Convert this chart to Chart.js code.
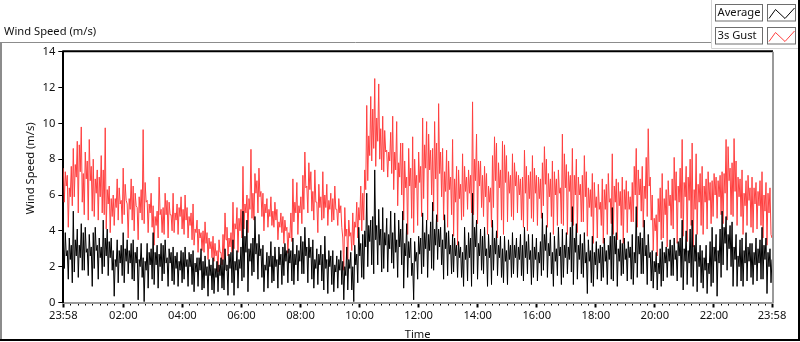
<!DOCTYPE html>
<html>
<head>
<meta charset="utf-8">
<script src="https://cdn.jsdelivr.net/npm/chart.js@4.4.1/dist/chart.umd.min.js"></script>
<style>
  html, body { margin: 0; padding: 0; background: #fff; }
  #wrap { width: 800px; height: 342px; }
</style>
</head>
<body>
<div id="wrap"><canvas id="windChart" width="800" height="342"></canvas></div>
<script>
// ---- data (minutes after 23:58, m/s) ----
var spanMinutes = 1440;
var majorMinutes = [0, 122, 242, 362, 482, 602, 722, 842, 962, 1082, 1202, 1322, 1440];
var majorLabels = ['23:58', '02:00', '04:00', '06:00', '08:00', '10:00', '12:00', '14:00', '16:00', '18:00', '20:00', '22:00', '23:58'];
var yTickValues = [0, 2, 4, 6, 8, 10, 12, 14];
var seriesNames = ['Average', '3s Gust'];

var averageValues = [
  3.4, 1.9, 3.9, 2.6, 2.9, 1.3, 3.6, 2.4, 3.2, 1.1,
  5.1, 1.7, 3.5, 2.6, 4.1, 1.4, 3.2, 2.5, 4.4, 1.8,
  3.9, 1.8, 4.2, 2.8, 3.0, 1.5, 3.8, 2.6, 3.1, 0.9,
  3.9, 1.9, 4.2, 2.9, 3.2, 1.3, 3.6, 2.5, 3.1, 1.6,
  4.6, 2.0, 3.6, 2.6, 4.1, 1.5, 3.4, 2.5, 3.6, 1.8,
  2.9, 0.35, 2.4, 2.0, 3.5, 1.1, 2.9, 2.2, 3.2, 1.5,
  3.9, 1.1, 3.0, 2.3, 3.5, 1.6, 2.9, 2.2, 3.3, 1.3,
  3.5, 1.2, 2.8, 2.2, 3.1, 0.15, 2.4, 2.0, 3.3, 1.4,
  2.5, 0.05, 2.3, 1.8, 3.3, 0.8, 2.8, 2.1, 3.0, 1.3,
  3.9, 1.0, 2.8, 2.1, 3.2, 0.8, 2.7, 2.0, 3.3, 1.2,
  3.2, 1.6, 3.5, 2.2, 2.5, 0.9, 3.0, 2.2, 2.8, 1.2,
  3.1, 1.0, 2.6, 1.9, 2.8, 0.9, 2.3, 1.8, 2.9, 1.1,
  2.8, 1.3, 3.1, 2.0, 2.4, 0.9, 2.8, 2.0, 2.7, 1.0,
  2.9, 0.6, 2.2, 1.7, 2.5, 0.9, 2.5, 1.8, 3.0, 0.7,
  2.3, 0.8, 2.6, 1.5, 2.0, 0.35, 2.4, 1.5, 2.1, 0.7,
  2.5, 0.5, 1.9, 1.4, 2.3, 0.6, 2.1, 1.5, 2.5, 0.8,
  2.4, 0.7, 3.0, 1.8, 2.1, 0.4, 2.7, 1.9, 2.8, 1.1,
  3.5, 0.4, 2.3, 1.8, 2.9, 0.8, 2.4, 1.9, 3.1, 1.2,
  5.1, 1.4, 3.7, 2.8, 4.6, 0.6, 3.0, 2.3, 3.3, 1.5,
  3.6, 1.7, 4.8, 2.7, 3.3, 1.3, 3.8, 2.6, 3.0, 1.4,
  3.2, 0.6, 2.1, 1.8, 2.8, 0.8, 2.6, 2.0, 3.4, 1.1,
  2.6, 1.2, 3.1, 2.0, 2.4, 0.8, 3.1, 2.1, 2.7, 1.0,
  3.1, 1.5, 3.3, 2.3, 2.9, 1.1, 3.0, 2.2, 2.9, 1.2,
  3.6, 1.0, 2.7, 2.1, 3.2, 1.2, 2.9, 2.3, 3.7, 1.6,
  3.4, 1.6, 4.2, 2.6, 3.1, 1.1, 3.6, 2.5, 3.1, 1.3,
  3.5, 0.8, 2.4, 1.9, 3.0, 1.0, 2.7, 2.1, 3.2, 1.2,
  2.7, 0.7, 3.7, 1.9, 2.4, 0.5, 2.9, 2.0, 2.6, 1.0,
  2.9, 0.6, 2.1, 1.7, 2.6, 0.8, 2.4, 1.8, 2.9, 1.0,
  2.3, 0.15, 2.0, 1.5, 3.1, 0.7, 2.4, 1.9, 2.8, 0.7,
  2.0, 0.05, 3.2, 2.1, 2.7, 1.1, 4.2, 2.6, 3.3, 1.4,
  3.8, 1.3, 4.0, 3.1, 6.1, 2.0, 4.3, 3.4, 4.6, 2.1,
  4.8, 1.6, 7.4, 3.5, 4.3, 2.1, 5.2, 3.2, 4.1, 1.7,
  5.3, 1.9, 3.9, 3.2, 4.7, 1.7, 3.8, 3.0, 5.1, 2.2,
  3.9, 1.9, 5.0, 2.8, 3.5, 1.4, 4.6, 3.1, 4.1, 2.1,
  5.1, 0.8, 3.3, 2.6, 4.4, 1.4, 3.4, 2.5, 3.6, 1.5,
  2.2, 0.15, 3.4, 2.3, 2.8, 1.3, 3.7, 2.7, 3.6, 1.6,
  5.0, 2.0, 3.9, 3.0, 4.6, 1.4, 3.8, 2.9, 4.5, 1.9,
  5.6, 1.8, 4.1, 3.2, 4.9, 2.4, 4.1, 3.1, 4.2, 2.1,
  3.5, 1.3, 4.9, 3.0, 3.9, 1.5, 4.0, 2.7, 3.2, 1.6,
  3.8, 1.7, 3.6, 2.6, 3.2, 1.4, 3.4, 2.5, 3.1, 1.4,
  2.8, 0.9, 4.2, 2.4, 3.2, 1.2, 3.9, 2.5, 3.6, 0.9,
  6.1, 1.6, 4.2, 3.1, 4.6, 1.3, 3.3, 2.6, 4.1, 1.8,
  3.7, 1.6, 4.2, 2.6, 3.0, 0.9, 3.8, 2.5, 3.2, 1.0,
  4.6, 1.8, 3.6, 2.7, 4.0, 1.5, 3.2, 2.5, 3.7, 1.4,
  3.0, 1.1, 3.7, 2.3, 2.9, 1.0, 3.5, 2.4, 3.2, 1.4,
  3.9, 1.6, 3.2, 2.5, 3.6, 1.4, 3.1, 2.4, 3.8, 1.5,
  3.2, 1.2, 4.2, 2.5, 3.4, 1.6, 3.8, 2.4, 2.9, 1.0,
  3.8, 1.4, 3.1, 2.4, 3.6, 1.2, 2.8, 2.2, 3.4, 1.5,
  5.0, 1.8, 3.8, 2.9, 4.3, 1.4, 3.3, 2.6, 3.9, 1.6,
  2.8, 0.9, 3.7, 2.3, 3.0, 1.5, 4.2, 2.6, 3.1, 1.0,
  4.1, 1.4, 3.2, 2.5, 3.9, 1.6, 3.1, 2.4, 4.2, 1.7,
  5.35, 1.0, 3.6, 2.8, 4.4, 1.3, 3.2, 2.4, 3.8, 1.6,
  3.3, 1.4, 3.9, 2.2, 2.8, 0.5, 3.5, 2.3, 2.9, 1.1,
  3.7, 0.9, 2.8, 2.1, 3.4, 1.3, 3.0, 2.2, 3.2, 1.2,
  3.1, 1.4, 3.6, 2.3, 2.9, 1.0, 3.2, 2.4, 3.7, 1.3,
  5.3, 1.2, 3.7, 2.7, 3.9, 0.9, 3.0, 2.3, 3.5, 1.5,
  3.3, 1.6, 3.6, 2.4, 3.0, 1.2, 3.4, 2.5, 3.1, 1.3,
  3.8, 1.0, 2.8, 2.2, 5.35, 1.4, 3.7, 2.7, 3.9, 1.6,
  3.6, 1.6, 4.6, 2.6, 3.2, 1.0, 3.8, 2.5, 2.8, 1.2,
  2.9, 0.8, 2.3, 1.7, 2.8, 0.7, 2.2, 1.6, 3.0, 0.9,
  3.4, 1.2, 2.8, 2.2, 3.1, 1.4, 3.0, 2.3, 3.5, 1.5,
  3.2, 1.5, 3.6, 2.4, 2.9, 1.2, 3.4, 2.6, 3.6, 1.4,
  4.6, 0.7, 3.0, 2.3, 4.0, 1.0, 2.9, 2.2, 4.1, 1.4,
  4.6, 0.9, 3.2, 2.3, 3.8, 0.6, 2.8, 2.0, 3.2, 1.1,
  2.9, 0.8, 2.5, 1.8, 3.2, 0.5, 2.2, 1.6, 3.4, 0.9,
  4.2, 1.1, 3.1, 2.3, 3.8, 0.35, 2.9, 2.2, 4.1, 1.4,
  5.1, 2.1, 4.2, 3.3, 4.8, 1.8, 3.8, 3.0, 4.3, 2.0,
  4.5, 0.9, 3.1, 2.4, 3.8, 0.9, 2.6, 2.0, 3.5, 1.2,
  3.6, 0.9, 2.9, 2.2, 3.9, 1.2, 3.1, 2.3, 3.3, 1.4,
  3.3, 1.0, 2.8, 2.1, 3.6, 1.2, 3.0, 2.2, 3.5, 1.3,
  4.2, 1.3, 3.2, 2.4, 3.6, 0.5, 2.8, 2.0, 3.0, 1.1,
  2.4
];

var gustValues = [
  7.5, 5.6, 7.3, 6.5, 7.1, 4.2, 6.4, 5.9, 7.6, 5.4,
  8.6, 5.9, 7.7, 7.0, 9.0, 5.0, 8.8, 7.3, 9.8, 5.6,
  7.2, 4.9, 8.4, 6.9, 7.9, 4.6, 9.1, 6.8, 7.6, 5.1,
  8.0, 4.8, 6.9, 6.1, 7.4, 4.6, 7.0, 5.9, 8.2, 5.0,
  7.4, 4.9, 9.75, 4.1, 6.3, 5.5, 6.5, 3.9, 5.8, 4.8,
  6.0, 4.3, 5.8, 5.3, 6.9, 4.6, 6.4, 5.5, 5.7, 4.4,
  7.5, 4.9, 6.6, 5.7, 5.5, 3.6, 5.8, 5.2, 6.9, 4.6,
  6.5, 4.0, 6.1, 5.4, 5.3, 3.5, 5.9, 5.0, 6.3, 4.6,
  9.65, 4.4, 6.7, 5.6, 5.7, 3.9, 5.5, 5.0, 6.1, 4.2,
  5.4, 3.2, 4.8, 4.3, 5.1, 3.6, 7.0, 4.9, 5.2, 3.9,
  5.3, 3.8, 6.1, 4.9, 5.7, 3.6, 5.6, 4.9, 4.9, 4.0,
  6.1, 3.9, 5.0, 4.6, 5.5, 3.8, 5.3, 4.8, 5.9, 4.1,
  5.2, 3.8, 6.0, 4.6, 5.3, 3.6, 4.8, 4.3, 5.0, 3.5,
  5.5, 3.2, 4.1, 3.9, 4.6, 2.8, 4.1, 3.6, 3.9, 2.9,
  4.0, 2.8, 4.5, 3.3, 3.9, 2.4, 3.6, 3.0, 3.4, 2.5,
  3.7, 2.3, 3.3, 2.6, 2.9, 1.7, 3.5, 2.8, 2.8, 2.1,
  3.8, 2.4, 5.0, 3.5, 4.2, 2.6, 3.6, 3.1, 3.9, 2.8,
  5.6, 3.0, 4.4, 4.1, 5.3, 2.8, 4.7, 4.0, 5.2, 3.6,
  7.6, 4.1, 5.5, 5.0, 6.0, 3.9, 5.8, 5.2, 8.55, 4.7,
  6.1, 4.6, 7.2, 6.1, 6.8, 5.0, 7.5, 5.9, 6.2, 4.8,
  6.1, 4.0, 5.5, 5.0, 5.8, 4.2, 5.2, 4.8, 5.9, 4.3,
  5.1, 4.2, 5.6, 4.6, 5.2, 3.5, 4.5, 4.2, 5.0, 3.9,
  4.8, 3.3, 4.6, 4.0, 4.2, 2.75, 3.9, 3.6, 5.0, 3.4,
  6.9, 4.5, 5.6, 5.0, 6.7, 3.8, 5.4, 5.0, 5.9, 4.4,
  7.1, 5.2, 8.4, 6.4, 6.5, 5.0, 7.8, 6.3, 7.3, 5.1,
  6.2, 4.6, 7.4, 5.6, 5.6, 3.9, 6.6, 5.3, 5.9, 4.6,
  7.3, 4.7, 6.0, 5.3, 6.6, 4.3, 5.7, 5.2, 6.1, 4.5,
  5.8, 4.6, 6.5, 5.2, 5.2, 4.3, 5.8, 5.0, 5.4, 4.2,
  3.6, 1.8, 5.3, 3.7, 4.1, 2.4, 4.6, 3.7, 3.9, 2.9,
  5.0, 3.2, 4.5, 4.2, 5.6, 3.6, 5.3, 4.6, 6.5, 4.0,
  6.1, 4.6, 7.4, 6.3, 11.0, 6.8, 9.3, 8.2, 11.5, 7.9,
  10.8, 8.6, 12.5, 7.6, 10.3, 9.0, 12.2, 8.0, 9.7, 7.4,
  10.4, 7.3, 9.6, 8.4, 8.5, 7.0, 8.4, 7.9, 9.5, 7.2,
  10.4, 6.3, 8.4, 7.4, 10.1, 5.4, 7.8, 7.0, 8.9, 6.0,
  8.9, 4.6, 7.9, 6.4, 7.0, 3.8, 8.6, 6.5, 7.5, 4.7,
  9.25, 3.9, 8.0, 6.4, 7.1, 4.3, 8.4, 6.7, 7.6, 4.8,
  10.3, 5.8, 8.8, 7.5, 10.1, 4.6, 9.4, 7.4, 8.5, 6.0,
  8.6, 5.1, 10.1, 6.9, 8.9, 4.5, 11.1, 7.2, 8.4, 5.9,
  8.6, 4.6, 7.3, 6.2, 8.5, 4.2, 7.9, 6.3, 7.0, 4.9,
  9.1, 3.7, 6.9, 5.6, 7.6, 3.2, 7.4, 5.8, 6.6, 4.6,
  8.3, 4.8, 7.6, 6.2, 7.0, 5.2, 7.4, 6.1, 7.1, 5.0,
  11.2, 4.9, 8.0, 6.8, 9.4, 4.4, 7.9, 6.5, 7.9, 5.3,
  7.1, 4.8, 7.6, 5.9, 7.2, 3.8, 6.5, 5.6, 6.4, 4.2,
  8.2, 5.3, 9.25, 6.8, 8.9, 3.6, 7.8, 6.4, 7.4, 4.6,
  9.0, 3.8, 8.8, 6.7, 8.2, 4.5, 7.3, 6.1, 7.1, 4.8,
  8.3, 4.6, 7.8, 6.5, 7.3, 5.0, 7.1, 6.0, 6.9, 4.6,
  7.0, 4.2, 8.5, 6.1, 7.6, 4.0, 7.1, 5.8, 7.3, 4.7,
  8.2, 4.5, 7.5, 6.1, 7.1, 4.3, 7.0, 5.8, 6.9, 4.7,
  7.8, 5.4, 8.7, 6.6, 8.0, 4.2, 7.2, 5.9, 6.9, 4.8,
  7.9, 3.8, 7.3, 6.0, 6.9, 4.3, 7.4, 6.1, 6.4, 4.4,
  9.4, 4.3, 8.3, 6.4, 7.7, 3.8, 7.3, 6.2, 7.1, 4.5,
  8.6, 4.3, 7.1, 6.0, 8.0, 3.9, 7.0, 6.0, 6.6, 4.5,
  7.1, 4.5, 8.2, 5.9, 7.3, 3.7, 6.4, 5.3, 6.3, 4.8,
  7.2, 3.3, 6.7, 5.3, 5.9, 3.6, 6.6, 5.2, 5.6, 4.3,
  6.9, 3.3, 6.3, 5.2, 6.6, 3.8, 7.2, 5.6, 5.8, 4.4,
  8.3, 3.8, 6.5, 5.6, 6.9, 3.5, 6.7, 5.4, 6.2, 4.3,
  7.0, 3.3, 6.3, 5.2, 6.8, 3.9, 6.2, 5.2, 5.9, 4.5,
  6.7, 4.5, 7.6, 6.0, 8.6, 4.2, 7.4, 6.0, 6.9, 5.1,
  7.6, 4.2, 6.5, 5.8, 8.1, 4.8, 9.7, 6.5, 7.0, 4.6,
  6.0, 2.9, 4.7, 4.0, 4.9, 2.6, 5.8, 4.5, 6.4, 3.5,
  7.2, 3.6, 5.8, 4.9, 6.3, 3.1, 6.8, 5.4, 6.0, 4.3,
  6.9, 4.1, 8.1, 5.7, 7.3, 3.3, 6.5, 5.6, 7.5, 4.7,
  9.1, 3.7, 6.7, 5.9, 7.6, 3.4, 7.0, 5.7, 8.0, 4.3,
  8.9, 3.1, 6.3, 5.2, 8.3, 3.8, 6.6, 5.6, 7.2, 4.3,
  7.6, 3.8, 6.5, 5.6, 6.9, 4.1, 7.3, 5.7, 6.7, 4.4,
  6.8, 4.8, 7.2, 6.0, 7.0, 4.7, 6.8, 5.9, 7.1, 4.9,
  7.3, 4.4, 7.2, 6.1, 9.1, 4.6, 8.7, 6.8, 7.5, 4.9,
  7.8, 4.8, 9.15, 6.2, 7.9, 4.3, 7.0, 5.9, 6.9, 4.8,
  7.4, 3.8, 6.1, 5.4, 6.8, 4.3, 7.1, 5.7, 6.4, 4.2,
  7.0, 3.9, 6.4, 5.5, 6.7, 4.1, 6.2, 5.4, 6.8, 4.3,
  7.3, 3.6, 6.0, 5.1, 6.7, 3.2, 6.1, 5.0, 6.4, 3.8,
  3.6
];

// sample times: evenly spaced readings over the day
function toPoints(values) {
  var step = spanMinutes / (values.length - 1);
  return values.map(function (v, i) { return { x: i * step, y: v }; });
}

// minor ticks every 15 min between the labelled ones
var minorMinutes = [];
for (var k = 0; k < majorMinutes.length - 1; k++) {
  for (var m = majorMinutes[k] + 15; m < majorMinutes[k + 1] - 3; m += 15) minorMinutes.push(m);
}

var FONT = "'Noto Sans', 'DejaVu Sans', sans-serif";
var FSIZE = 11.2;
var TEXT = '#111';

// ---- panel chrome: frame, caption, legend boxes ----
var panelChrome = {
  id: 'panelChrome',
  beforeDraw: function (chart) {
    var ctx = chart.ctx;
    ctx.save();
    ctx.fillStyle = '#fff';
    ctx.fillRect(0, 0, chart.width, chart.height);

    ctx.lineWidth = 2;
    ctx.strokeStyle = '#8c8c8c';
    ctx.beginPath(); ctx.moveTo(1, 340); ctx.lineTo(1, 42.5); ctx.stroke();
    ctx.lineWidth = 1;
    ctx.beginPath(); ctx.moveTo(0, 42.5); ctx.lineTo(711, 42.5); ctx.stroke();
    ctx.strokeStyle = '#d4d4d4';
    ctx.beginPath(); ctx.moveTo(711.5, 0); ctx.lineTo(711.5, 48.5); ctx.lineTo(798, 48.5); ctx.stroke();
    ctx.lineWidth = 2;
    ctx.strokeStyle = '#000';
    ctx.beginPath(); ctx.moveTo(0, 340); ctx.lineTo(799, 340); ctx.lineTo(799, 0); ctx.stroke();

    ctx.font = FSIZE + 'px ' + FONT;
    ctx.fillStyle = TEXT;
    ctx.textBaseline = 'middle';
    ctx.textAlign = 'left';
    ctx.fillText('Wind Speed (m/s)', 4, 31.5);
    ctx.restore();
  },
  afterDatasetsDraw: function (chart) {
    var ctx = chart.ctx, a = chart.chartArea;
    ctx.save();
    ctx.lineWidth = 2;
    ctx.strokeStyle = '#000';
    ctx.beginPath(); ctx.moveTo(a.left - 1, a.top - 0.5); ctx.lineTo(a.right + 1, a.top - 0.5); ctx.stroke();
    ctx.strokeStyle = '#9a9a9a';
    ctx.beginPath(); ctx.moveTo(a.right + 1, a.top); ctx.lineTo(a.right + 1, a.bottom + 1); ctx.stroke();

    // legend: name box + swatch box per series
    var ds = chart.data.datasets;
    ctx.font = FSIZE + 'px ' + FONT;
    ctx.textBaseline = 'middle';
    ctx.textAlign = 'left';
    for (var i = 0; i < ds.length; i++) {
      var y0 = 4.5 + i * 23;
      ctx.lineWidth = 1;
      ctx.strokeStyle = '#6e6e6e';
      ctx.fillStyle = '#fff';
      ctx.fillRect(715.5, y0, 47, 16.5);
      ctx.strokeRect(715.5, y0, 47, 16.5);
      ctx.fillRect(767.5, y0, 28, 16.5);
      ctx.strokeRect(767.5, y0, 28, 16.5);
      ctx.fillStyle = TEXT;
      ctx.fillText(ds[i].label, 717.5, y0 + 8.5);
      ctx.strokeStyle = ds[i].borderColor;
      ctx.beginPath();
      ctx.moveTo(769, y0 + 14); ctx.lineTo(775.5, y0 + 5);
      ctx.lineTo(785, y0 + 14); ctx.lineTo(794.5, y0 + 3.5);
      ctx.stroke();
    }
    ctx.restore();
  }
};

var windCanvas = document.getElementById('windChart');
var windChart = new Chart(windCanvas, {
  type: 'line',
  data: {
    datasets: [{
      label: seriesNames[0],
      data: toPoints(averageValues),
      borderColor: '#000000',
      borderWidth: 1
    }, {
      label: seriesNames[1],
      data: toPoints(gustValues),
      borderColor: 'rgb(255,64,64)',
      borderWidth: 1
    }]
  },
  options: {
    responsive: false,
    animation: false,
    events: [],
    layout: { padding: { top: 51.7, right: 28, left: 0, bottom: 0 } },
    elements: { point: { radius: 0 }, line: { tension: 0 } },
    plugins: { legend: { display: false }, tooltip: { enabled: false } },
    scales: {
      xMinor: {
        type: 'linear', position: 'bottom', weight: 0,
        min: 0, max: spanMinutes,
        afterBuildTicks: function (s) { s.ticks = minorMinutes.map(function (v) { return { value: v }; }); },
        afterFit: function (s) { s.height = 0; },
        ticks: { display: false },
        grid: { drawOnChartArea: false, tickLength: 3, tickColor: '#000', tickWidth: 1 },
        border: { display: false }
      },
      x: {
        type: 'linear', position: 'bottom', weight: 1,
        min: 0, max: spanMinutes,
        afterBuildTicks: function (s) { s.ticks = majorMinutes.map(function (v) { return { value: v }; }); },
        afterFit: function (s) { s.height = 39.5; },
        ticks: {
          autoSkip: false, maxRotation: 0, padding: 2, color: TEXT,
          font: { family: FONT, size: FSIZE },
          callback: function (v) { return majorLabels[majorMinutes.indexOf(v)]; }
        },
        grid: { drawOnChartArea: false, tickLength: 5, tickColor: '#000', tickWidth: 2 },
        border: { display: true, color: '#9a9a9a', width: 2 },
        title: { display: true, text: 'Time', color: TEXT, font: { family: FONT, size: FSIZE }, padding: { top: 0, bottom: 0 } }
      },
      y: {
        min: 0, max: 14,
        afterBuildTicks: function (s) { s.ticks = yTickValues.map(function (v) { return { value: v }; }); },
        afterFit: function (s) { s.width = 63.3; },
        ticks: { padding: 3, color: TEXT, font: { family: FONT, size: FSIZE } },
        grid: { drawOnChartArea: false, tickLength: 5, tickColor: '#000', tickWidth: 1 },
        border: { display: true, color: '#000', width: 2 },
        title: { display: true, text: '      Wind Speed (m/s)', color: TEXT, font: { family: FONT, size: FSIZE }, padding: { top: 24, bottom: 0 } }
      }
    }
  },
  plugins: [panelChrome]
});
</script>
</body>
</html>
